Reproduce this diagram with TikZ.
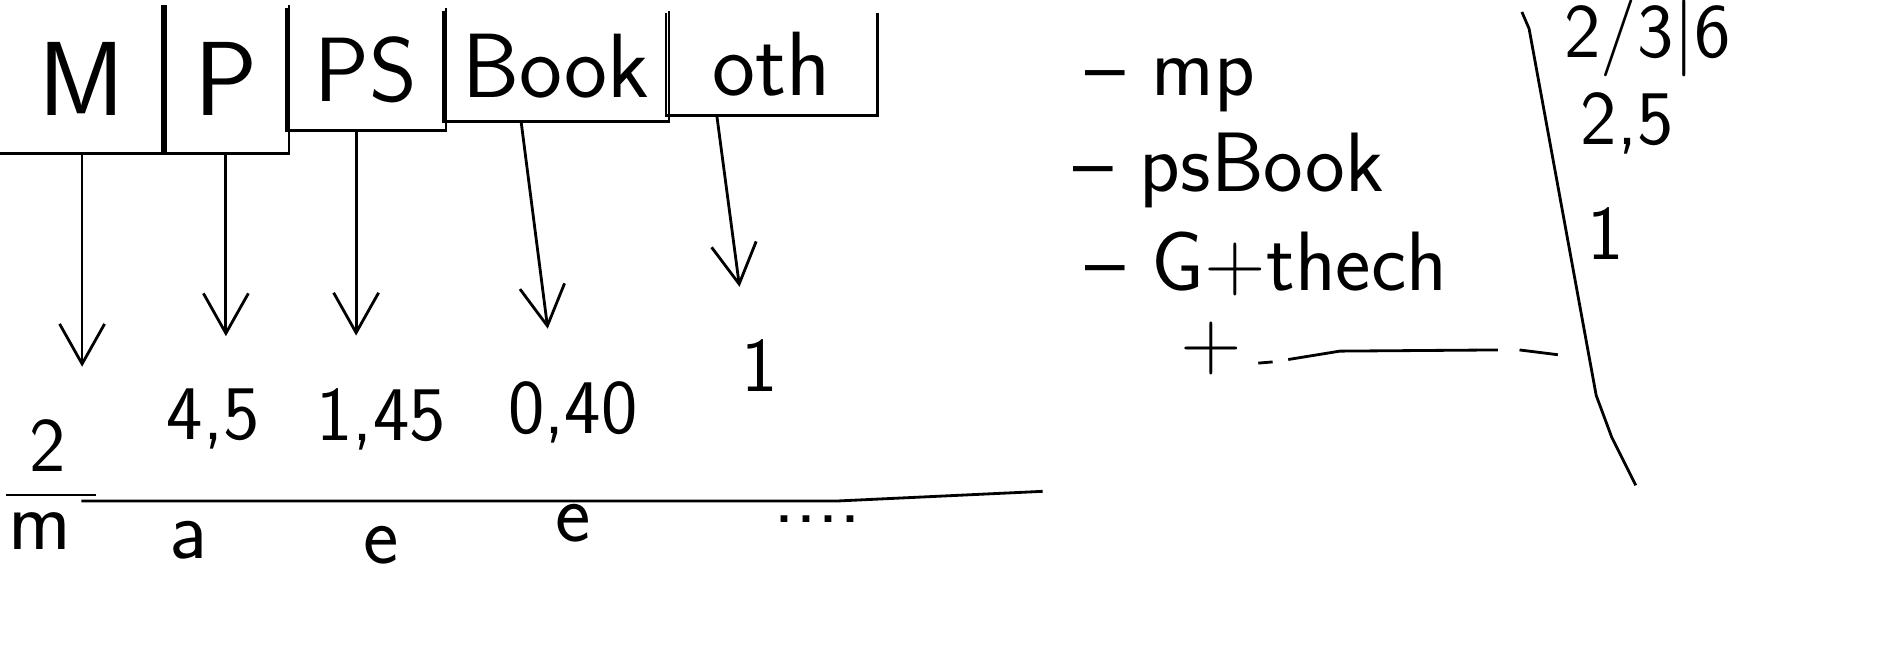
\documentclass[tikz,border=0pt]{standalone}
\usepackage{fontspec}
\usetikzlibrary{arrows.meta}

\begin{document}
\begin{tikzpicture}[x=0.012cm, y=-0.012cm, line width=0.8pt,
    cell/.style={inner sep=0pt, font=\fontsize{26}{30}\selectfont\sffamily},
    val/.style={font=\fontsize{22}{26}\selectfont\sffamily},
    sub/.style={font=\fontsize{24}{28}\selectfont\sffamily},
    item/.style={anchor=base west, inner sep=0pt, font=\fontsize{24}{28}\selectfont\sffamily},
    arr/.style={-{Straight Barb[length=4mm,width=4.5mm]}, shorten >=4mm}]
    \useasboundingbox (0,0) rectangle (1568,541);

    % Boxes
    \node[cell, minimum width=1.644cm, minimum height=1.464cm, font=\fontsize{30}{34}\selectfont\sffamily] (m) at (68.5,66) {M};
    \node[cell, minimum width=1.236cm, minimum height=1.464cm, font=\fontsize{30}{34}\selectfont\sffamily] (p) at (188.5,66) {P};
    \node[cell, minimum width=1.572cm, minimum height=1.2cm] (ps) at (305.5,58) {PS};
    \node[cell, minimum width=2.232cm, minimum height=1.08cm] (book) at (464,55) {Book};
    \node[cell, minimum width=2.088cm, minimum height=0.996cm] (oth) at (644,53.5) {oth};
    \draw (m.south west) -- (m.south east) -- (m.north east);
    \foreach \b in {p,ps,book,oth}
        \draw (\b.north west) |- (\b.south east) -- (\b.north east);

    % Values
    \node[val] (v1) at (40,372) {2};
    \node[val] (v2) at (178,350) {4,5};
    \node[val] (v3) at (318,350) {1,45};
    \node[val] (v4) at (478,344) {0,40};
    \node[val] (v5) at (634,305) {1};

    % Arrows
    \draw[arr] (m.south) -- (m.south |- v1.north);
    \draw[arr] (p.south) -- (p.south |- v2.north);
    \draw[arr] ([xshift=-0.1cm]ps.south) -- ([xshift=-0.1cm]ps.south |- v3.north);
    \draw[arr] ([xshift=-0.35cm]book.south) -- ([xshift=-0.2cm]v4.north);
    \draw[arr] ([xshift=-0.55cm]oth.south) -- ([xshift=-0.15cm]v5.north);

    % Line and labels under it
    \draw (5,413) -- (80,413);
    \draw (68,418) -- (700,418) -- (870,410);
    \node[sub] (lm) at (33,443) {m};
    \node[sub] (la) at (157,451) {a};
    \node[sub] (le1) at (318,455) {e};
    \node[sub] (le2) at (478,437) {e};
    \node[sub] (ldots) at (682,433) {....};

    % List
    \node[item] (i1) at (905,80) {-- mp};
    \node[item] (i2) at (895,160) {-- psBook};
    \node[item] (i3) at (905,242) {-- G+thech};
    \node[item] (i4) at (984,308) {+};
    \draw (1050,303) -- (1062,302);
    \draw (1075,300) -- (1118,293) -- (1250,292);
    \draw (1268,292) -- (1300,296);

    % Divider and numbers
    \draw (1270,10) -- (1276,24) -- (1332,330) -- (1345,365) -- (1365,405);
    \node[val] (r1) at (1375,32) {2/3|6};
    \node[val] (r2) at (1358,103) {2,5};
    \node[val] (r3) at (1340,195) {1};
\end{tikzpicture}
\end{document}
